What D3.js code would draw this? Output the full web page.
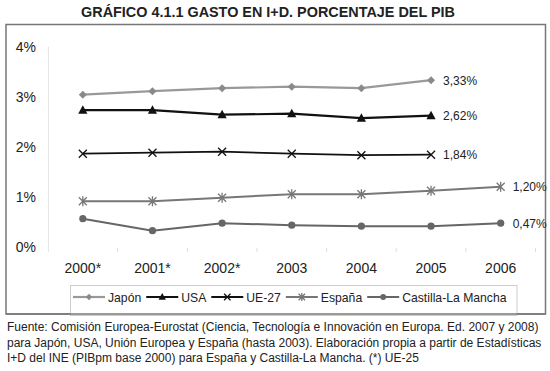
<!DOCTYPE html>
<html><head><meta charset="utf-8">
<script src="https://cdn.jsdelivr.net/npm/d3@7"></script>
<style>body{margin:0;background:#fff}svg{display:block;font-family:"Liberation Sans",Arial,sans-serif}</style>
</head><body>
<svg id="c" width="550" height="371"></svg>
<script>
const categories = ["2000*","2001*","2002*","2003","2004","2005","2006"];
const yTicks = [0,1,2,3,4];
const japon   = [3.04,3.11,3.17,3.20,3.17,3.33];
const usa     = [2.73,2.73,2.64,2.66,2.57,2.62];
const ue27    = [1.86,1.88,1.90,1.86,1.83,1.84];
const espana  = [0.91,0.91,0.98,1.05,1.05,1.12,1.20];
const clm     = [0.56,0.32,0.47,0.43,0.41,0.41,0.47];
const seriesNames = ["Japón","USA","UE-27","España","Castilla-La Mancha"];
const endLabels = ["3,33%","2,62%","1,84%","1,20%","0,47%"];
const footer = [
 "Fuente: Comisión Europea-Eurostat (Ciencia, Tecnología e Innovación en Europa. Ed. 2007 y 2008)",
 "para Japón, USA, Unión Europea y España (hasta 2003). Elaboración propia a partir de Estadísticas",
 "I+D del INE (PIBpm base 2000) para España y Castilla-La Mancha. (*) UE-25"
];
const title = "GRÁFICO 4.1.1 GASTO EN I+D. PORCENTAJE DEL PIB";

const svg = d3.select("#c");
const x = d3.scalePoint().domain(categories).range([48,535.5]).padding(0.5);
const xb = d3.scaleBand().domain(categories).range([48,535.5]);
const y = d3.scaleLinear().domain([0,4]).range([246.7,46.7]);

svg.append("text").attr("x",268).attr("y",17).attr("text-anchor","middle")
  .attr("font-weight","bold").attr("font-size",14.4).attr("fill","#222").text(title);

svg.append("rect").attr("x",6).attr("y",24.5).attr("width",539.5).attr("height",289.5)
  .attr("fill","none").attr("stroke","#777").attr("stroke-width",1.5);

// y axis
svg.append("line").attr("x1",48.5).attr("x2",48.5).attr("y1",y(4)).attr("y2",252)
  .attr("stroke","#e6e6e6").attr("stroke-width",1);
svg.selectAll(".yl").data(yTicks).join("text")
  .attr("x",36).attr("y",d=>y(d)+5).attr("text-anchor","end").attr("font-size",14).attr("fill","#222")
  .text(d=>d+"%");
// x ticks
const bounds = categories.map(c=>xb(c)+xb.bandwidth());
svg.selectAll(".xt").data(bounds).join("line")
  .attr("x1",d=>d).attr("x2",d=>d).attr("y1",y(0)+1).attr("y2",252)
  .attr("stroke","#ddd");
svg.selectAll(".xl").data(categories).join("text")
  .attr("x",d=>x(d)).attr("y",273).attr("text-anchor","middle").attr("font-size",14).attr("fill","#222")
  .text(d=>d);

const styles = [
 {data:japon, stroke:"#999", sw:2.2, mk:"diamond", mc:"#8a8a8a"},
 {data:usa, stroke:"#111", sw:2.2, mk:"triangle", mc:"#111"},
 {data:ue27, stroke:"#111", sw:1.8, mk:"x", mc:"#111"},
 {data:espana, stroke:"#777", sw:2, mk:"star", mc:"#777"},
 {data:clm, stroke:"#666", sw:2, mk:"circle", mc:"#666"}
];
function marker(g, type, color, s){
  s = s||1;
  if(type==="diamond") g.append("path").attr("d",`M0,${-4*s}L${4*s},0L0,${4*s}L${-4*s},0Z`).attr("fill",color);
  else if(type==="triangle") g.append("path").attr("d",`M0,${-5*s}L${4.6*s},${3.5*s}L${-4.6*s},${3.5*s}Z`).attr("fill",color);
  else if(type==="x") g.append("path").attr("d",`M${-4*s},${-4*s}L${4*s},${4*s}M${-4*s},${4*s}L${4*s},${-4*s}`).attr("stroke",color).attr("stroke-width",1.3);
  else if(type==="star") g.append("path").attr("d",`M${-4*s},${-4*s}L${4*s},${4*s}M${-4*s},${4*s}L${4*s},${-4*s}M0,${-5*s}L0,${5*s}`).attr("stroke",color).attr("stroke-width",1.3);
  else g.append("circle").attr("r",3.6*s).attr("fill",color);
}
const line = d3.line().x((d,i)=>x(categories[i])).y(d=>y(d));
styles.forEach((s,k)=>{
  svg.append("path").attr("d",line(s.data)).attr("fill","none").attr("stroke",s.stroke).attr("stroke-width",s.sw);
  s.data.forEach((v,i)=>{
    const g = svg.append("g").attr("transform",`translate(${x(categories[i])},${y(v)})`);
    marker(g,s.mk,s.mc);
  });
  const li = s.data.length-1;
  svg.append("text").attr("x",x(categories[li])+12).attr("y",y(s.data[li])+4.5)
    .attr("font-size",12).attr("fill","#222").text(endLabels[k]);
});

// legend
svg.append("rect").attr("x",70.5).attr("y",285.5).attr("width",446.5).attr("height",30)
  .attr("fill","#fff").attr("stroke","#ccc");
let lx = 73;
styles.forEach((s,k)=>{
  svg.append("line").attr("x1",lx).attr("x2",lx+32).attr("y1",297).attr("y2",297)
    .attr("stroke",s.stroke).attr("stroke-width",s.sw);
  const g = svg.append("g").attr("transform",`translate(${lx+16},297)`);
  marker(g,s.mk,s.mc,0.8);
  const t = svg.append("text").attr("x",lx+35).attr("y",301.5).attr("font-size",12.2).attr("fill","#222").text(seriesNames[k]);
  lx += 35 + t.node().getComputedTextLength() + 5;
});
// redraw frame bottom over legend
svg.append("line").attr("x1",6).attr("x2",545.5).attr("y1",314).attr("y2",314).attr("stroke","#777").attr("stroke-width",1.5);

svg.selectAll(".ft").data(footer).join("text")
  .attr("x",7).attr("y",(d,i)=>331+i*15.5).attr("font-size",12).attr("fill","#222").text(d=>d);
</script>
</body></html>
